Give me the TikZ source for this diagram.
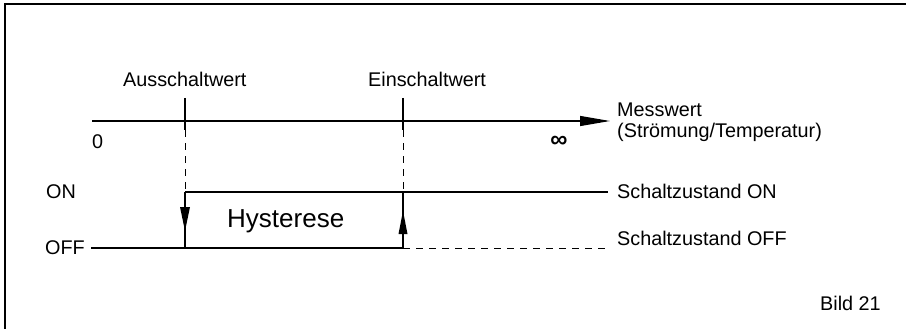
\documentclass[tikz,border=0pt]{standalone}
\usepackage{fontspec}
\setmainfont{Liberation Sans}
\usetikzlibrary{arrows.meta}
\tikzset{
  lbl/.style={inner sep=0pt, anchor=base west, font=\fontsize{19.8}{22}\selectfont},
  big/.style={inner sep=0pt, anchor=base west, font=\fontsize{26}{30}\selectfont},
  thinline/.style={line width=1.1pt},
  tickline/.style={line width=2.2pt},
  dashline/.style={line width=1pt, dash pattern=on 7pt off 6pt},
  head/.style={fill=black, draw=none}
}
\begin{document}
\begin{tikzpicture}[x=1pt,y=-1pt]
\useasboundingbox (0,0) rectangle (906,329);
% frame
\draw[line width=1.5pt] (5,329) -- (5,4) -- (906,4);
% coordinates
\coordinate (a0) at (92,121);
\coordinate (a1) at (610,121);
\coordinate (ta) at (185,98);  \coordinate (tb) at (185,130);
\coordinate (ea) at (403,98);  \coordinate (eb) at (403,130);
\coordinate (aon) at (185,192); \coordinate (aoff) at (185,248);
\coordinate (eon) at (403,192); \coordinate (eoff) at (403,248);
\coordinate (onend) at (608,192);
\coordinate (offstart) at (91,248);
\coordinate (offend) at (608,248);
% axis
\draw[thinline, -{Triangle[length=30pt,width=10pt]}] (a0) -- (a1);
\draw[tickline] (ta) -- (tb);
\draw[tickline] (ea) -- (eb);
% dashed guides
\draw[dashline] (tb) -- (aon);
\draw[dashline] (eb) -- (eon);
% switching curve
\draw[thinline] (offstart) -- (eoff);
\draw[dashline] (eoff) -- (offend);
\draw[thinline] (aon) -- (onend);
\draw[thinline] (aon) -- (aoff);
\draw[line width=1.6pt] (eon) -- (eoff);
% arrowheads
\fill[head] (180,207) -- (190,207) -- (185,231) -- cycle;
\fill[head] (398.5,234) -- (407.5,234) -- (403,211) -- cycle;
% texts
\node[lbl] (aus) at (123,87) {Ausschaltwert};
\node[lbl] (ein) at (368,87) {Einschaltwert};
\node[lbl] (zero) at (92,148) {0};
\node[inner sep=0pt, font=\fontsize{24}{26}\selectfont\bfseries] (inf) at (559,142) {∞};
\node[lbl] (mw1) at (617,117) {Messwert};
\node[lbl] (mw2) at (617,137) {(Strömung/Temperatur)};
\node[lbl] (on) at (46,198) {ON};
\node[lbl] (off) at (45,254) {OFF};
\node[lbl] (szon) at (617,198) {Schaltzustand ON};
\node[lbl] (szoff) at (617,245) {Schaltzustand OFF};
\node[big] (hys) at (227,227) {Hysterese};
\node[lbl] (bild) at (820,310) {Bild 21};
\end{tikzpicture}
\end{document}
